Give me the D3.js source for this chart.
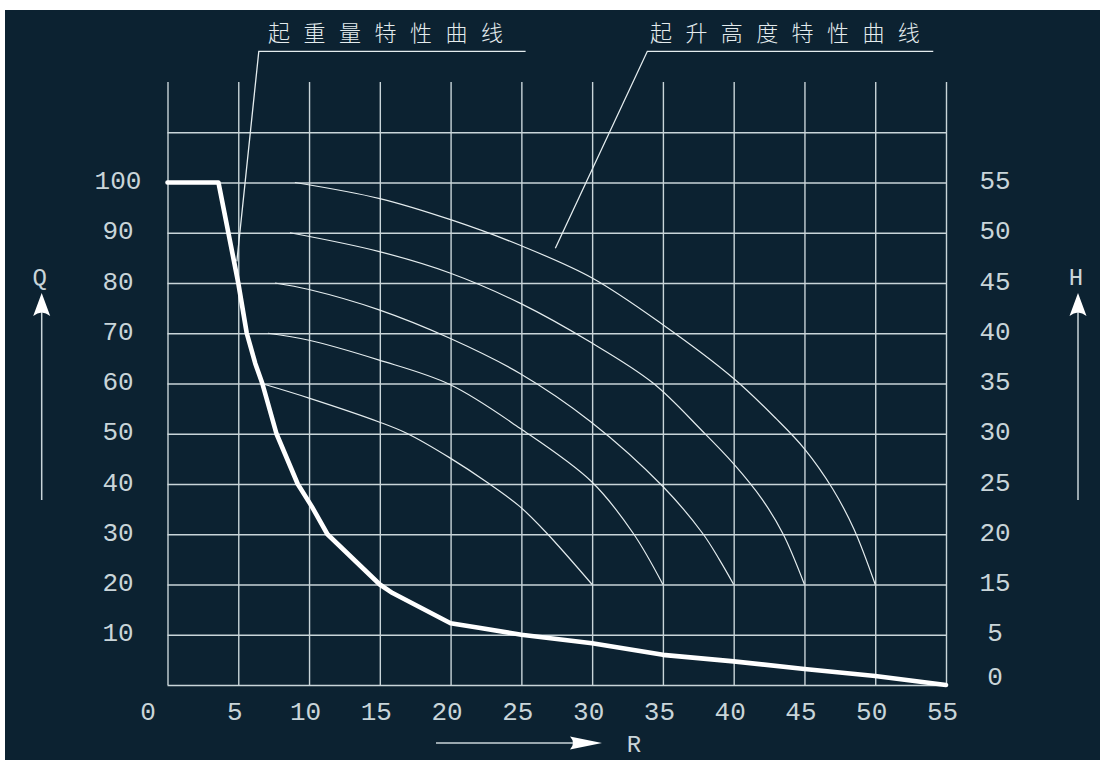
<!DOCTYPE html>
<html>
<head>
<meta charset="utf-8">
<script src="https://cdn.jsdelivr.net/npm/d3@7/dist/d3.min.js"></script>
<style>
  html, body { margin: 0; padding: 0; background: #ffffff; }
  svg { display: block; }
</style>
</head>
<body>
<script>
// ---------- data ----------
const xTicks = [0, 5, 10, 15, 20, 25, 30, 35, 40, 45, 50, 55];
const qTicks = [100, 90, 80, 70, 60, 50, 40, 30, 20, 10];
const qGrid = [0, 10, 20, 30, 40, 50, 60, 70, 80, 90, 100, 110];
const hTicks = [55, 50, 45, 40, 35, 30, 25, 20, 15, 5, 0];

// 起重量特性曲线 (R, Q)
const loadR = [0, 3.6, 5, 5.6, 6.2, 6.7, 7.7, 9.2, 10.2, 11.3, 15, 15.9, 20, 22, 25, 30, 35, 40, 45, 50, 55];
const loadQ = [100, 100, 80, 70, 64, 60, 50, 40, 35.5, 30, 20, 18.3, 12.3, 11.4, 10, 8.3, 6, 4.7, 3.2, 1.8, 0];

// 起升高度特性曲线 (R, H)
const heightR1 = [9, 15, 20, 25, 30, 35, 40, 43, 45, 47, 48.5, 50];
const heightH1 = [55, 53.4, 51.3, 48.7, 45.5, 40.85, 35.5, 31.5, 28.5, 24.5, 20.5, 15];
const heightR2 = [8.65, 14.9, 19.95, 24.9, 29.9, 34.3, 37.8, 40, 42, 43.5, 45];
const heightH2 = [50, 48.15, 46, 43, 39.1, 35.05, 30.25, 27, 23.5, 20, 15];
const heightR3 = [7.6, 10, 14.9, 19.95, 24.9, 29.9, 35, 37.8, 39, 40];
const heightH3 = [45, 44.35, 42.35, 39.5, 36, 31.2, 24.75, 20.1, 17.45, 15];
const heightR4 = [7.1, 10, 14.9, 19.95, 24.9, 29.95, 32.9, 35];
const heightH4 = [40, 39.3, 37.35, 34.9, 30.55, 25.25, 20.1, 15];
const heightR5 = [6.65, 10, 14.9, 16.9, 19.95, 22.65, 24.9, 26.8, 30];
const heightH5 = [35, 33.55, 31.2, 30.05, 27.6, 25.1, 22.75, 20.1, 15];

const title1 = "起重量特性曲线";
const title2 = "起升高度特性曲线";
const axisQ = "Q", axisH = "H", axisR = "R";

// ---------- setup ----------
const W = 1100, H = 760;
const bg = "#0c2231";
const gridColor = "#c9d5d9";
const lineColor = "#e4ecee";
const digitFont = "'Liberation Mono', 'DejaVu Sans Mono', monospace";
const cjkFont = "'Noto Sans CJK SC', 'Noto Sans', sans-serif";

const svg = d3.select("body").append("svg").attr("width", W).attr("height", H);
svg.append("rect").attr("x", 5).attr("y", 10).attr("width", W - 5).attr("height", H - 10).attr("fill", bg);

const x = d3.scaleLinear().domain([0, 55]).range([167.5, 946]);
const y = d3.scaleLinear().domain([0, 120]).range([685, 82]);
// right-hand H scale (drawn non-uniformly in the original)
const hScale = d3.scaleLinear().domain([0, 5, 15, 55]).range([y(1.2), y(10), y(20), y(100)]);

// ---------- grid via axes ----------
const gV = svg.append("g").attr("transform", `translate(0,${y(0)})`)
  .call(d3.axisBottom(x).tickValues(xTicks).tickSize(-(y(0) - y(120))).tickFormat(""));
gV.select(".domain").remove();
gV.selectAll("line").attr("stroke", gridColor).attr("stroke-width", 1.4);

const gH = svg.append("g").attr("transform", `translate(${x(0)},0)`)
  .call(d3.axisLeft(y).tickValues(qGrid).tickSize(-(x(55) - x(0))).tickFormat(""));
gH.select(".domain").remove();
gH.selectAll("line").attr("stroke", gridColor).attr("stroke-width", 1.4);

// ---------- tick labels via axes ----------
const gxl = svg.append("g").attr("transform", `translate(0,${y(0)})`)
  .call(d3.axisBottom(x).tickValues(xTicks).tickSize(0).tickPadding(0));
gxl.select(".domain").remove();
gxl.selectAll("text")
  .attr("font-family", digitFont).attr("font-size", 26).attr("fill", gridColor)
  .attr("text-anchor", "middle")
  .attr("dy", null).attr("y", 35)
  .attr("x", d => d === 0 ? -20 : -4);

const gyl = svg.append("g").attr("transform", `translate(${x(0)},0)`)
  .call(d3.axisLeft(y).tickValues(qTicks).tickSize(0).tickPadding(0));
gyl.select(".domain").remove();
gyl.selectAll("text")
  .attr("font-family", digitFont).attr("font-size", 26).attr("fill", gridColor)
  .attr("text-anchor", "middle").attr("x", 118 - x(0))
  .attr("dy", null).attr("y", 6);

const ghl = svg.append("g").attr("transform", `translate(${x(55)},0)`)
  .call(d3.axisRight(hScale).tickValues(hTicks).tickSize(0).tickPadding(0));
ghl.select(".domain").remove();
ghl.selectAll("text")
  .attr("font-family", digitFont).attr("font-size", 26).attr("fill", gridColor)
  .attr("text-anchor", "middle").attr("x", 995 - x(55))
  .attr("dy", null).attr("y", 6);

// ---------- height curves ----------
const hLine = d3.line().x(d => x(d[0])).y(d => hScale(d[1])).curve(d3.curveCatmullRom.alpha(0.5));
const hCurves = [
  [heightR1, heightH1], [heightR2, heightH2], [heightR3, heightH3],
  [heightR4, heightH4], [heightR5, heightH5]
];
svg.append("g").selectAll("path").data(hCurves).join("path")
  .attr("d", c => hLine(c[0].map((r, i) => [r, c[1][i]])))
  .attr("fill", "none").attr("stroke", lineColor).attr("stroke-width", 1.2);

// ---------- load curve ----------
const qLine = d3.line().x(d => x(d[0])).y(d => y(d[1]));
svg.append("path")
  .datum(loadR.map((r, i) => [r, loadQ[i]]))
  .attr("d", qLine)
  .attr("fill", "none").attr("stroke", "#ffffff").attr("stroke-width", 4.6)
  .attr("stroke-linejoin", "round").attr("stroke-linecap", "round");

// ---------- annotations ----------
const ann = svg.append("g").attr("stroke", lineColor).attr("stroke-width", 1.3).attr("fill", "none");
ann.append("path").attr("d", d3.line()([[x(4.9), y(84.3)], [x(6.45), y(126.1)], [x(25.3), y(126.1)]]));
ann.append("path").attr("d", d3.line()([[x(27.4), y(86.9)], [x(33.9), y(126.1)], [x(54.1), y(126.1)]]));

svg.append("text").text(title1)
  .attr("x", 268).attr("y", 41)
  .attr("font-family", cjkFont).attr("font-size", 22).attr("font-weight", 300).attr("letter-spacing", 13.5)
  .attr("fill", lineColor);
svg.append("text").text(title2)
  .attr("x", 650).attr("y", 41)
  .attr("font-family", cjkFont).attr("font-size", 22).attr("font-weight", 300).attr("letter-spacing", 13.4)
  .attr("fill", lineColor);

// ---------- axis arrows ----------
function upArrow(cx, label) {
  const g = svg.append("g");
  g.append("line").attr("x1", cx).attr("x2", cx).attr("y1", 312).attr("y2", 500)
    .attr("stroke", gridColor).attr("stroke-width", 1.5);
  g.append("path")
    .attr("d", `M${cx},293 L${cx - 8.5},316 Q${cx},309 ${cx + 8.5},316 Z`)
    .attr("fill", "#ffffff");
  g.append("text").text(label).attr("x", cx - 2).attr("y", 285)
    .attr("text-anchor", "middle").attr("font-family", digitFont).attr("font-size", 24)
    .attr("fill", gridColor);
}
upArrow(41.7, axisQ);
upArrow(1078, axisH);

const rg = svg.append("g");
rg.append("line").attr("x1", 436).attr("x2", 575).attr("y1", 743).attr("y2", 743)
  .attr("stroke", gridColor).attr("stroke-width", 1.5);
rg.append("path")
  .attr("d", "M602,743 L570,736.5 Q576,743 570,749.5 Z")
  .attr("fill", "#ffffff");
rg.append("text").text(axisR).attr("x", 634).attr("y", 752)
  .attr("text-anchor", "middle").attr("font-family", digitFont).attr("font-size", 24)
  .attr("fill", gridColor);
</script>
</body>
</html>
